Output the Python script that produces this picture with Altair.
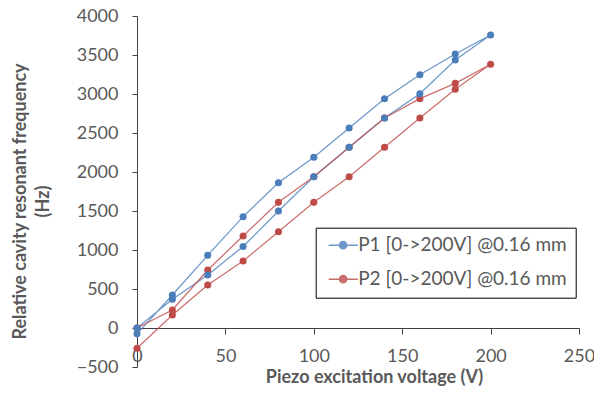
import altair as alt
import pandas as pd

P1_LABEL = "P1 [0->200V] @0.16 mm"
P2_LABEL = "P2 [0->200V] @0.16 mm"

p1_voltage = [0, 20, 40, 60, 80, 100, 120, 140, 160, 180, 200,
              180, 160, 140, 120, 100, 80, 60, 40, 20, 0]
p1_freq = [-75, 423, 932, 1427, 1863, 2188, 2564, 2940, 3247, 3513, 3756,
           3436, 3004, 2692, 2317, 1940, 1500, 1045, 680, 368, 0]

p2_voltage = [0, 20, 40, 60, 80, 100, 120, 140, 160, 180, 200,
              180, 160, 140, 120, 100, 80, 60, 40, 20, 0]
p2_freq = [0, 231, 744, 1179, 1611, 1940, 2317, 2692, 2940, 3137, 3381,
           3060, 2692, 2317, 1940, 1611, 1235, 859, 551, 167, -260]

x_ticks = [0, 50, 100, 150, 200, 250]
y_ticks = [-500, 0, 500, 1000, 1500, 2000, 2500, 3000, 3500, 4000]

rows = []
for name, vs, fs in [(P1_LABEL, p1_voltage, p1_freq), (P2_LABEL, p2_voltage, p2_freq)]:
    for i, (v, f) in enumerate(zip(vs, fs)):
        rows.append({"series": name, "step": i, "v": v, "f": f})
df = pd.DataFrame(rows)

FONT = "Lato"
GRAY = "#595959"
PLOT_W = 442
PLOT_H = 351
ZERO_OFFSET = -PLOT_H * 500 / 4500

sym_path = "M-0.63,0L3.41,0M1.87,0A0.5,0.5,0,1,1,0.87,0A0.5,0.5,0,1,1,1.87,0Z"

color = alt.Color(
    "series:N",
    scale=alt.Scale(domain=[P1_LABEL, P2_LABEL], range=["#4A7EBB", "#BE4B48"]),
    legend=alt.Legend(
        title=None, orient="none", legendX=178.7, legendY=211.7,
        strokeColor="#000000", fillColor="white", padding=8,
        symbolType=sym_path, symbolSize=210, symbolStrokeWidth=1.5,
        labelOffset=15.5, rowPadding=14, labelFont=FONT, labelFontSize=19,
        labelColor=GRAY, labelLimit=400,
    ),
)

base = alt.Chart(df).encode(
    x=alt.X("v:Q", scale=alt.Scale(domain=[0, 250], nice=False, zero=False),
            axis=alt.Axis(values=x_ticks, format="d", title="Piezo excitation voltage (V)",
                          offset=ZERO_OFFSET,
                          grid=False, tickSize=6, labelPadding=13, labelFlush=False,
                          labelOverlap=False, labelFont=FONT, labelFontSize=18,
                          labelColor=GRAY, domainColor="#404040", tickColor="#404040",
                          titleFont=FONT, titleFontSize=18, titleFontWeight="bold",
                          titleColor=GRAY, titleX=237, titleY=54, titleBaseline="alphabetic",
                          titleAlign="center")),
    y=alt.Y("f:Q", scale=alt.Scale(domain=[-500, 4000], nice=False, zero=False),
            axis=alt.Axis(values=y_ticks, format="d",
                          title=["Relative cavity resonant frequency", "(Hz)"],
                          grid=False, tickSize=5, labelPadding=14, labelFlush=False,
                          labelOverlap=False, labelFont=FONT, labelFontSize=18,
                          labelColor=GRAY, domainColor="#404040", tickColor="#404040",
                          titleFont=FONT, titleFontSize=18, titleFontWeight="bold",
                          titleColor=GRAY, titleX=-112, titleY=185, titleAngle=-90,
                          titleBaseline="alphabetic", titleAlign="center",
                          titleLineHeight=23)),
    color=color,
    order="step:Q",
)

lines = base.mark_line(strokeWidth=1.25, opacity=0.8)
points = base.mark_point(filled=True, size=50, opacity=1)

chart = alt.layer(lines, points).properties(
    width=PLOT_W, height=PLOT_H,
    padding={"left": 129, "top": 8, "right": 15, "bottom": 20},
    autosize=alt.AutoSizeParams(type="none"),
).configure_view(stroke=None)

chart.save("out.html", embed_options={"renderer": "svg", "actions": False})
